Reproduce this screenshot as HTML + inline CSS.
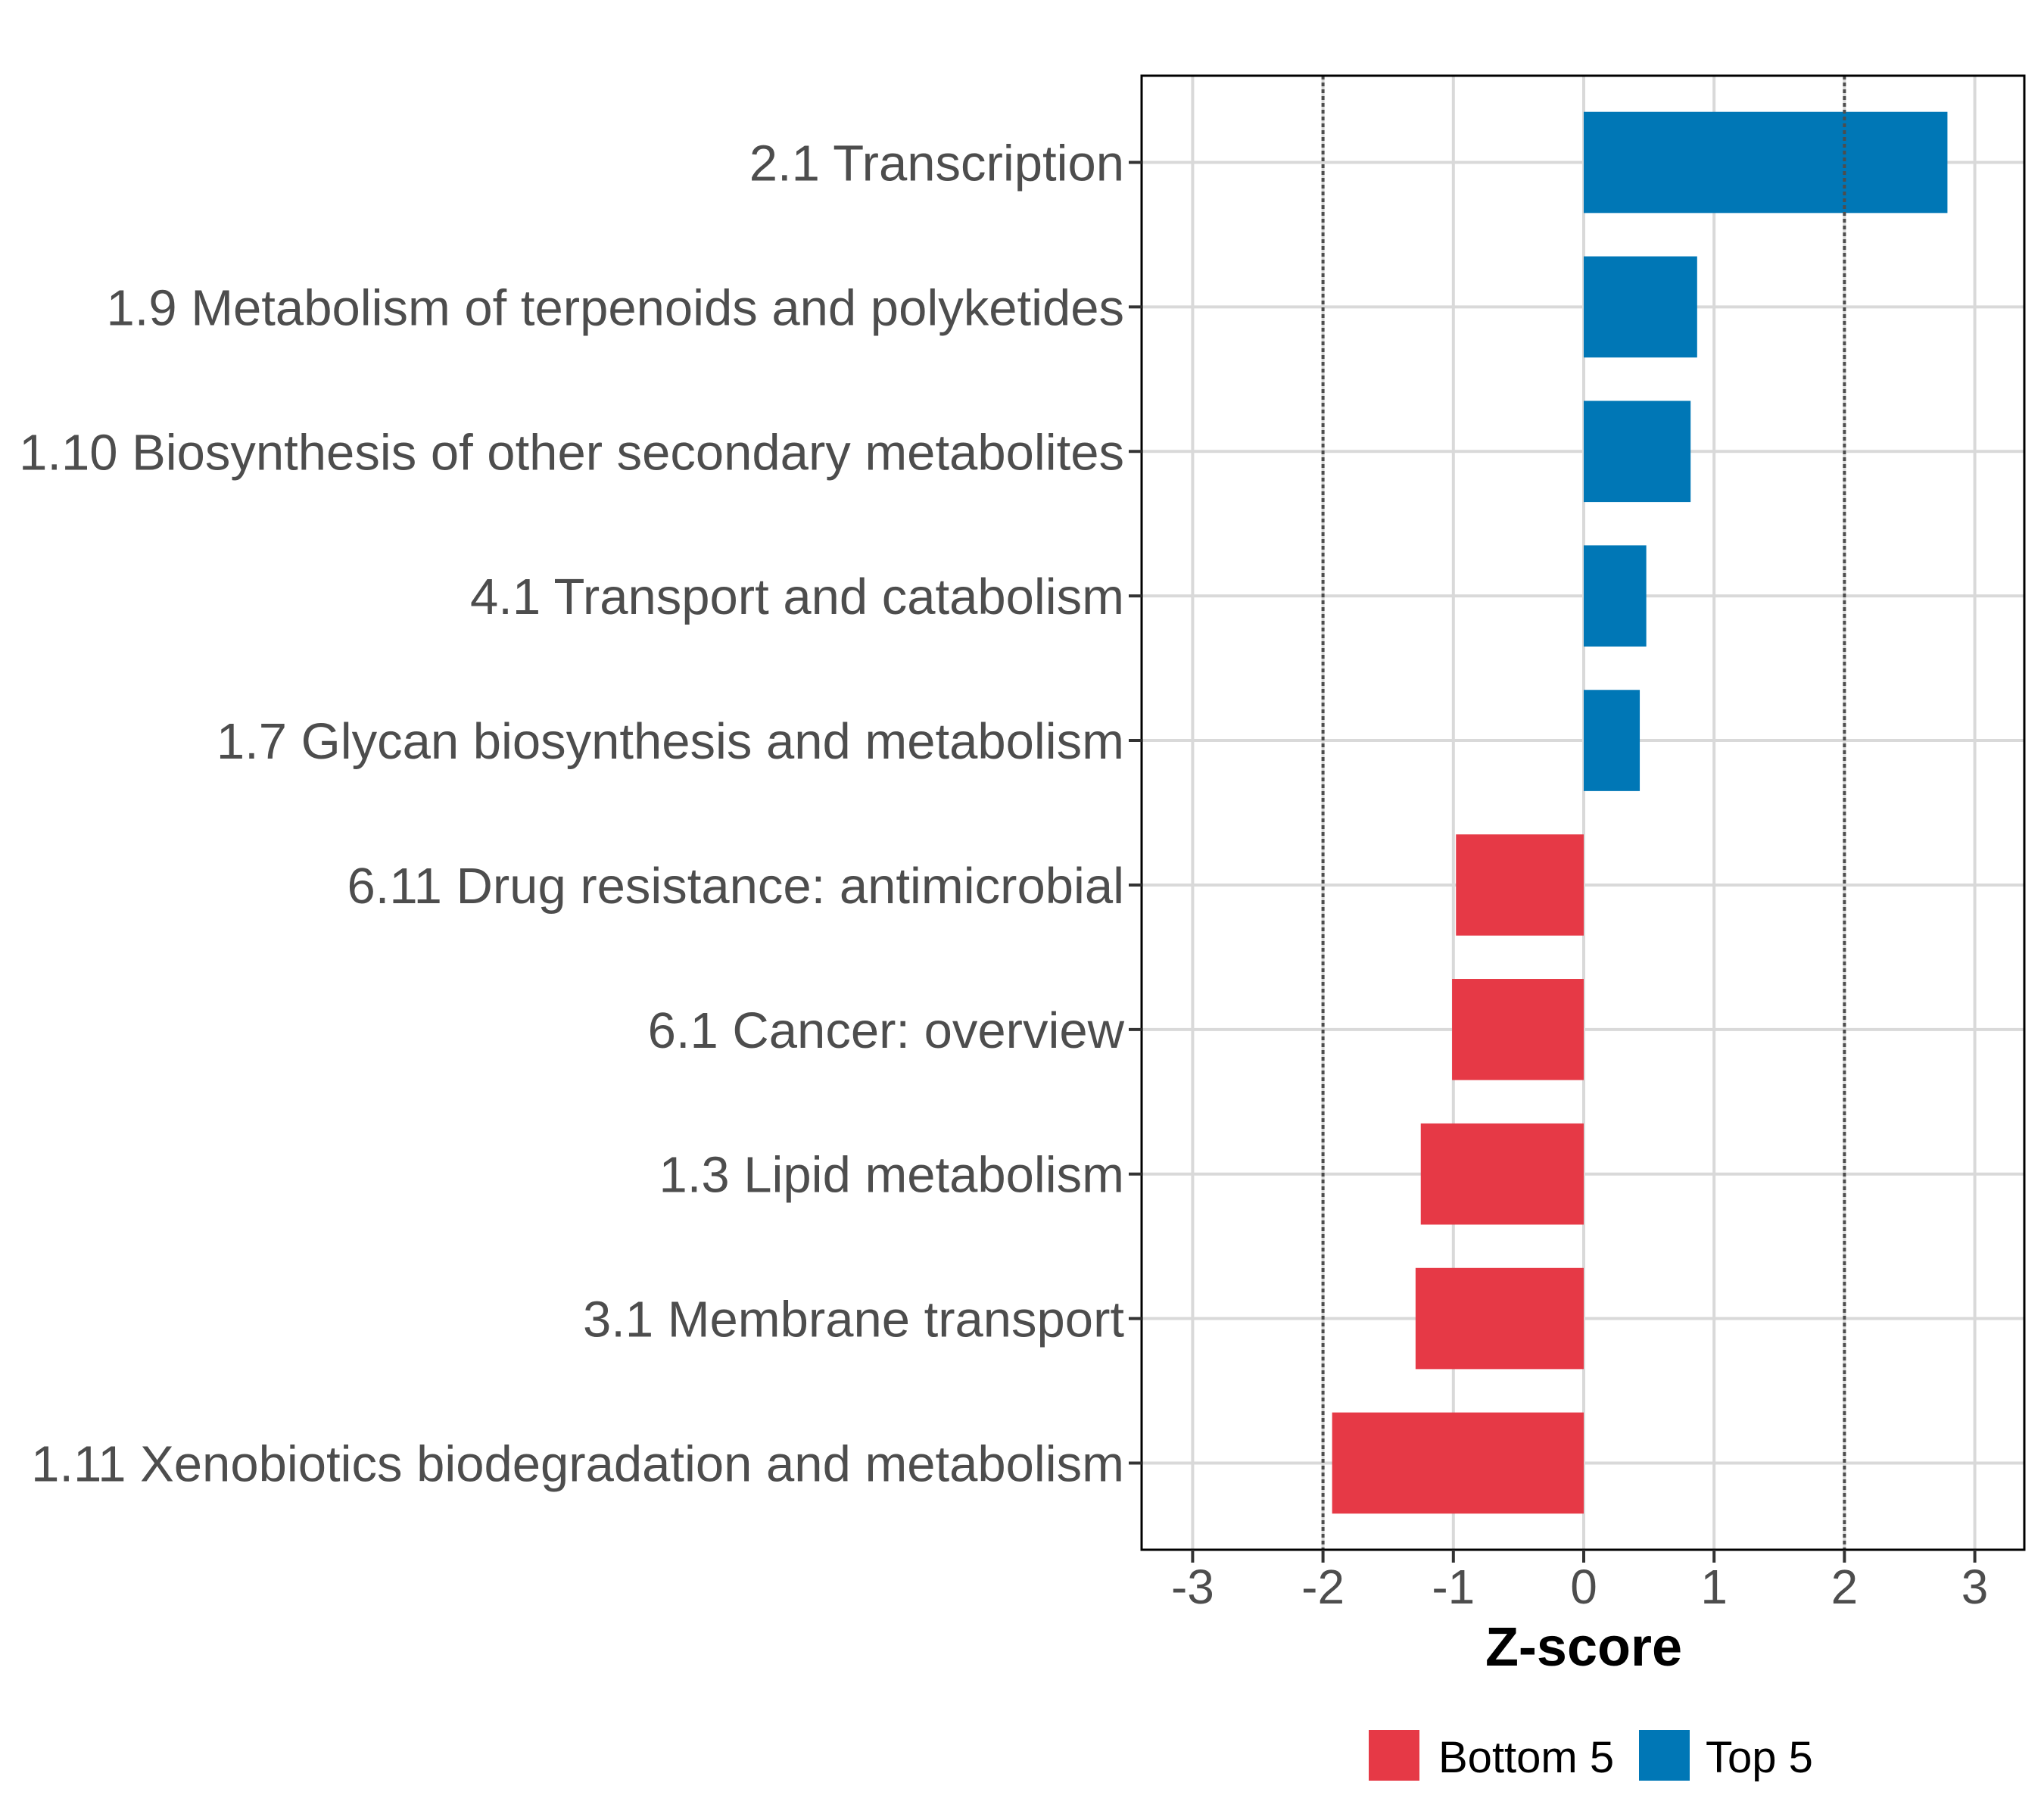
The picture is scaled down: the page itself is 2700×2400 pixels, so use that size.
<!DOCTYPE html>
<html><head><meta charset="utf-8"><style>
html,body{margin:0;padding:0;background:#fff}
svg{display:block}
text{font-family:"Liberation Sans",Arial,sans-serif}
</style></head><body>
<svg id="chart" width="2700" height="2400" viewBox="0 0 2700 2400" xmlns="http://www.w3.org/2000/svg">
<rect width="2700" height="2400" fill="#fff"/>
<g id="grid"></g>
<g id="bars"></g>
<g id="refs"></g>
<rect x="1508" y="100" width="1166" height="1947" fill="none" stroke="#000" stroke-width="3"/>
<g id="yaxis"></g>
<g id="xaxis"></g>
<text x="2092" y="2200" text-anchor="middle" font-size="72" font-weight="bold" fill="#000">Z-score</text>
<g>
<rect x="1808" y="2285" width="67" height="67" fill="#E63946"/>
<text x="1900" y="2341" font-size="58" fill="#000">Bottom 5</text>
<rect x="2165" y="2285" width="67" height="67" fill="#0077B6"/>
<text x="2253" y="2341" font-size="58" fill="#000">Top 5</text>
</g>
</svg>
<script>
const categories = ["2.1 Transcription","1.9 Metabolism of terpenoids and polyketides","1.10 Biosynthesis of other secondary metabolites","4.1 Transport and catabolism","1.7 Glycan biosynthesis and metabolism","6.11 Drug resistance: antimicrobial","6.1 Cancer: overview","1.3 Lipid metabolism","3.1 Membrane transport","1.11 Xenobiotics biodegradation and metabolism"];
const zscores = [2.79, 0.87, 0.82, 0.48, 0.43, -0.98, -1.01, -1.25, -1.29, -1.93];
const groups = ["Top 5","Top 5","Top 5","Top 5","Top 5","Bottom 5","Bottom 5","Bottom 5","Bottom 5","Bottom 5"];
const xTicks = [-3,-2,-1,0,1,2,3];
const xTickLabels = ["-3","-2","-1","0","1","2","3"];
const refLines = [-2, 2];

const NS="http://www.w3.org/2000/svg";
const L=1508,R=2674,T=100,B=2047;
const X0=2092, UNIT=172.2;
const x = v => X0 + v*UNIT;
const step = (B-T)/(categories.length+0.2);
const y = i => T + (0.6+i)*step;
const barH = 0.7*step;
const colors={"Top 5":"#0077B6","Bottom 5":"#E63946"};
function mk(tag,attrs,parent){const e=document.createElementNS(NS,tag);for(const k in attrs)e.setAttribute(k,attrs[k]);parent.appendChild(e);return e;}
const grid=document.getElementById('grid'),bars=document.getElementById('bars'),refs=document.getElementById('refs'),ya=document.getElementById('yaxis'),xa=document.getElementById('xaxis');
xTicks.forEach((t,i)=>{
  const g=mk('line',{x1:x(t),x2:x(t),y1:T,y2:B,stroke:"#d9d9d9","stroke-width":4},grid);
  
  
  const tk=mk('line',{x1:x(t),x2:x(t),y1:B,y2:B+17,stroke:"#333","stroke-width":4},xa);
  
  
  const tl=mk('text',{x:x(t),y:B+71,"text-anchor":"middle","font-size":64,fill:"#4d4d4d"},xa);
  tl.textContent=xTickLabels[i];
  
  
});
categories.forEach((c,i)=>{
  const g=mk('line',{x1:L,x2:R,y1:y(i),y2:y(i),stroke:"#d9d9d9","stroke-width":4},grid);
  
  
  const v=zscores[i];
  const b=mk('rect',{x:Math.min(x(0),x(v)),y:y(i)-barH/2,width:Math.abs(x(v)-x(0)),height:barH,fill:colors[groups[i]]},bars);
  
  
  const tk=mk('line',{x1:L-17,x2:L,y1:y(i),y2:y(i),stroke:"#333","stroke-width":4},ya);
  
  
  const tl=mk('text',{x:L-23,y:y(i)+24,"text-anchor":"end","font-size":67,fill:"#4d4d4d"},ya);
  tl.textContent=c;
  
  
});
refLines.forEach(r=>{
  const l=mk('line',{x1:x(r),x2:x(r),y1:T,y2:B,stroke:"#4d4d4d","stroke-width":4,"stroke-dasharray":"5 4"},refs);
  
  
});
</script>
</body></html>
